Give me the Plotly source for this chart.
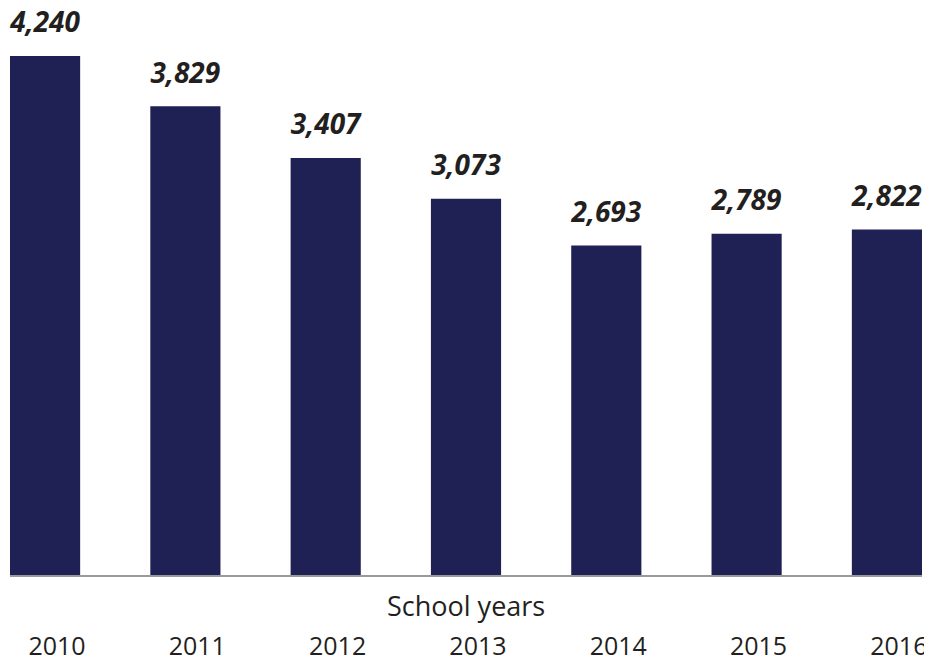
import plotly.graph_objects as go

years = ["2010", "2011", "2012", "2013", "2014", "2015", "2016"]
counts = [4240, 3829, 3407, 3073, 2693, 2789, 2822]
labels = ["4,240", "3,829", "3,407", "3,073", "2,693", "2,789", "2,822"]
axis_title = "School years"

BAR = "#1f2054"
TXT = "#231f20"
FONT = "Open Sans"

fig = go.Figure()
fig.add_trace(go.Bar(x=years, y=counts, marker=dict(color=BAR, line=dict(width=0)),
                     hoverinfo="skip", showlegend=False))
# value labels above bars (invisible marker sets the gap above the bar top)
fig.add_trace(go.Scatter(x=years, y=counts, mode="markers+text",
                         text=[f"<b><i>{t}</i></b>" for t in labels],
                         textposition="top center",
                         textfont=dict(family=FONT, size=28, color=TXT),
                         marker=dict(size=25, opacity=0),
                         cliponaxis=False, hoverinfo="skip", showlegend=False))
# invisible helper trace carrying the year tick labels (slightly offset axis)
fig.add_trace(go.Scatter(x=list(range(len(years))), y=counts, xaxis="x2", mode="markers",
                         marker=dict(opacity=0), hoverinfo="skip", showlegend=False))

fig.add_annotation(x=0.5, y=0, xref="paper", yref="paper", text=axis_title,
                   showarrow=False, xanchor="center", yanchor="middle", yshift=-30,
                   font=dict(family=FONT, size=27, color=TXT))

fig.update_layout(
    width=924, height=656,
    margin=dict(l=2, r=10, t=2, b=89, autoexpand=False),
    paper_bgcolor="white", plot_bgcolor="white",
    bargap=0.5,
    xaxis=dict(type="category", range=[-0.25, 6.25], showticklabels=False,
               showline=True, linecolor="#9a9a9a", linewidth=2, showgrid=False,
               zeroline=False, ticks="", automargin=False),
    xaxis2=dict(overlaying="x", anchor="y", side="bottom", range=[-0.335, 6.165],
                tickmode="array", tickvals=list(range(len(years))), ticktext=years,
                showline=False, showgrid=False, zeroline=False, ticks="",
                ticklabelstandoff=54, ticklabeloverflow="allow", automargin=False,
                tickfont=dict(family=FONT, size=25, color=TXT)),
    yaxis=dict(range=[0, 4616], visible=False, showgrid=False, zeroline=False,
               automargin=False),
)

fig.write_html("out.html")
